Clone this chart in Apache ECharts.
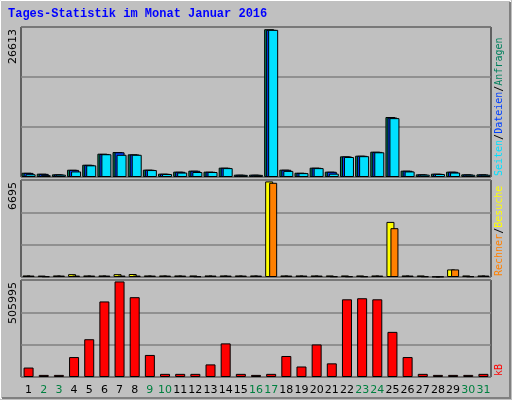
<!DOCTYPE html>
<html><head><meta charset="utf-8">
<script src="https://cdn.jsdelivr.net/npm/echarts@6/dist/echarts.min.js"></script>
<style>html,body{margin:0;padding:0;background:#c0c0c0}#c{width:512px;height:400px}</style>
</head><body><div id="c"></div>
<script>
const days = ['1','2','3','4','5','6','7','8','9','10','11','12','13','14','15','16','17','18','19','20','21','22','23','24','25','26','27','28','29','30','31'];
const weekend = ['2','3','9','10','16','17','23','24','30','31'];
const hits  = [770,600,480,1310,2210,4200,4500,4080,1320,600,960,1140,960,1680,420,420,26613,1320,770,1680,960,3720,3840,4560,10800,1140,480,600,960,480,480];
const files = [740,560,460,1280,2180,4150,4450,4050,1300,580,940,1120,940,1660,400,400,26500,1300,740,1660,940,3700,3820,4520,10700,1120,460,580,940,460,460];
const pages = [500,330,420,1000,2100,4100,4000,4000,1250,540,800,900,900,1600,380,380,26500,1100,700,1600,600,3600,3750,4450,10600,1000,420,540,800,400,400];
const visits = [110,100,110,200,110,110,200,210,110,110,110,110,110,110,110,110,6695,110,110,110,110,110,110,110,3860,110,110,30,530,110,110];
const sites  = [100,50,100,100,100,100,100,100,100,100,100,50,100,100,100,100,6600,100,100,100,50,50,50,100,3420,100,50,30,530,50,100];
const kb = [50000,11100,11100,105600,200000,400000,505995,422600,116800,16700,16700,16700,66700,178000,16700,11100,16700,111200,55600,172400,72300,411400,417000,411400,239000,105600,16700,11100,11100,11100,16700];
const maxVals = [26613, 6695, 505995];

const chart = echarts.init(document.getElementById('c'));
const L = 21, R = 21;
const grids = [{top:27,height:150},{top:180,height:97},{top:280,height:97}];
const line = {lineStyle:{color:'#808080',width:1.5}};
const bl = {borderColor:'#000',borderWidth:1};
const sideFont = '10px "DejaVu Sans Mono"';

chart.setOption({
  backgroundColor:'#c0c0c0',
  animation:false,
  grid: grids.map(g => ({left:L,right:R,top:g.top,height:g.height,show:true,backgroundColor:'#c0c0c0',borderColor:'#000',borderWidth:1})),
  xAxis: [0,1,2].map(i => ({
    type:'category', gridIndex:i, data:days,
    axisLine:{show:false}, axisTick:{show:false},
    axisLabel: i < 2 ? {show:false} : {
      interval:0, margin:8, fontFamily:'DejaVu Sans', fontSize:11,
      formatter: v => weekend.includes(v) ? '{w|' + v + '}' : '{n|' + v + '}',
      rich:{w:{color:'#008040',fontSize:11,fontFamily:'DejaVu Sans'},n:{color:'#000',fontSize:11,fontFamily:'DejaVu Sans'}}
    }
  })),
  yAxis: [0,1,2].map(i => ({
    type:'value', gridIndex:i, min:0, max:maxVals[i]*1.015, interval:maxVals[i]*1.015/3,
    axisLabel:{show:false}, axisLine:{show:false}, axisTick:{show:false},
    splitLine:{show:true, ...line}
  })),
  series: [
    {type:'bar',name:'Anfragen',data:hits,xAxisIndex:0,yAxisIndex:0,barWidth:10,barGap:'-80%',itemStyle:{color:'#00805c',...bl}},
    {type:'bar',name:'Dateien',data:files,xAxisIndex:0,yAxisIndex:0,barWidth:10,barGap:'-80%',itemStyle:{color:'#0040ff',...bl}},
    {type:'bar',name:'Seiten',data:pages,xAxisIndex:0,yAxisIndex:0,barWidth:10,barGap:'-80%',itemStyle:{color:'#00e0ff',...bl}},
    {type:'bar',name:'Besuche',data:visits,xAxisIndex:1,yAxisIndex:1,barWidth:8,barGap:'-50%',itemStyle:{color:'#ffff00',...bl}},
    {type:'bar',name:'Rechner',data:sites,xAxisIndex:1,yAxisIndex:1,barWidth:8,barGap:'-50%',itemStyle:{color:'#ff8000',...bl}},
    {type:'bar',name:'kB',data:kb,xAxisIndex:2,yAxisIndex:2,barWidth:10,itemStyle:{color:'#ff0000',...bl}}
  ],
  graphic: [
    {type:'rect',shape:{x:0.5,y:0.5,width:510,height:398},style:{fill:'none',stroke:'#fff',lineWidth:1},silent:true},
    {type:'rect',shape:{x:2,y:397,width:509,height:2},style:{fill:'#808080'},silent:true},
    {type:'rect',shape:{x:509,y:2,width:2,height:397},style:{fill:'#808080'},silent:true},
    {type:'text',left:8,top:8,style:{text:'Tages-Statistik im Monat Januar 2016',fill:'#0000ff',font:'bold 12px "Liberation Mono", "DejaVu Sans Mono", monospace'}},
    ...[0,1,2].map(i => ({type:'text',x:8,y:grids[i].top+2,rotation:Math.PI/2,style:{text:String(maxVals[i]),fill:'#000',font:'11px "DejaVu Sans"',align:'right',verticalAlign:'top'}})),
    {type:'text',x:494,y:176,rotation:Math.PI/2,style:{
      text:'{c|Seiten}{k|/}{b|Dateien}{k|/}{g|Anfragen}',align:'left',verticalAlign:'top',
      rich:{c:{fill:'#00e0ff',font:sideFont},b:{fill:'#0040ff',font:sideFont},g:{fill:'#00805c',font:sideFont},k:{fill:'#000',font:sideFont}}}},
    {type:'text',x:494,y:276,rotation:Math.PI/2,style:{
      text:'{o|Rechner}{k|/}{y|Besuche}',align:'left',verticalAlign:'top',
      rich:{o:{fill:'#ff8000',font:sideFont},y:{fill:'#ffff00',font:sideFont},k:{fill:'#000',font:sideFont}}}},
    {type:'text',x:494,y:376,rotation:Math.PI/2,style:{text:'kB',fill:'#ff0000',font:sideFont,align:'left',verticalAlign:'top'}}
  ]
});
</script></body></html>
